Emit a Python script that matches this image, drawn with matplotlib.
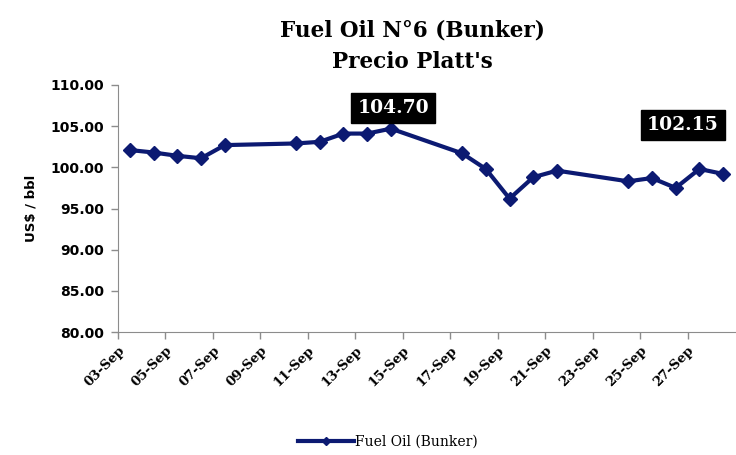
"""
Fuel Oil N°6 (Bunker) - Precio Platt's
"""
import matplotlib
matplotlib.use('Agg')
import matplotlib.pyplot as plt
import matplotlib.dates as mdates
import matplotlib.transforms as mtransforms
import pandas as pd

dates = ['2012-09-03', '2012-09-04', '2012-09-05', '2012-09-06', '2012-09-07',
         '2012-09-10', '2012-09-11', '2012-09-12', '2012-09-13', '2012-09-14',
         '2012-09-17', '2012-09-18', '2012-09-19', '2012-09-20', '2012-09-21',
         '2012-09-24', '2012-09-25', '2012-09-26', '2012-09-27', '2012-09-28']
prices = [102.1, 101.8, 101.4, 101.1, 102.7,
          102.9, 103.1, 104.1, 104.1, 104.7,
          101.7, 99.8, 96.2, 98.8, 99.6,
          98.3, 98.7, 97.5, 99.8, 99.2]
label_max = '104.70'
label_last = '102.15'
yticks = [80, 85, 90, 95, 100, 105, 110]

navy = '#0c1a72'
grey = '#8c8c8c'

x = mdates.date2num(pd.to_datetime(dates)) + 0.5
start = mdates.date2num(pd.Timestamp('2012-09-03'))
end = mdates.date2num(pd.Timestamp('2012-09-29'))
tick_dates = pd.date_range('2012-09-03', '2012-09-27', freq='2D')

fig = plt.figure(figsize=(7.36, 4.55), dpi=100)
ax = fig.add_axes([118 / 736, 1 - 332 / 455, 617 / 736, 247 / 455])

ax.plot(x, prices, color=navy, lw=3, marker='D', ms=7, mfc=navy, mec=navy,
        label='Fuel Oil (Bunker)')

ax.set_xlim(start, end)
ax.set_ylim(80, 110)
ax.set_yticks(yticks)
ax.set_yticklabels([f'{v:.2f}' for v in yticks], family='DejaVu Sans',
                   fontweight='bold', fontsize=10)
ax.set_xticks(mdates.date2num(tick_dates))
ax.set_xticklabels([d.strftime('%d-Sep') for d in tick_dates], rotation=45,
                   ha='right', rotation_mode='anchor', family='DejaVu Serif',
                   fontweight='bold', fontsize=9.5)
shift = mtransforms.ScaledTranslation(8 / 100, -4 / 100, fig.dpi_scale_trans)
for lbl in ax.get_xticklabels():
    lbl.set_transform(lbl.get_transform() + shift)

for side in ('top', 'right'):
    ax.spines[side].set_visible(False)
for side in ('left', 'bottom'):
    ax.spines[side].set_color(grey)
ax.tick_params(axis='both', colors=grey, length=5, width=1, labelcolor='black')
ax.tick_params(axis='y', pad=5)

ax.set_ylabel('US$ / bbl', family='DejaVu Sans', fontweight='bold',
              fontsize=9.5, labelpad=9)

box = dict(boxstyle='square,pad=0.32', fc='black', ec='black')
ax.text(mdates.date2num(pd.Timestamp('2012-09-14')) + 0.6, 107.2, label_max,
        color='white', fontsize=13.5, fontweight='bold', family='DejaVu Serif',
        ha='center', va='center', bbox=box)
ax.text(mdates.date2num(pd.Timestamp('2012-09-26')) + 0.8, 105.2, label_last,
        color='white', fontsize=13.5, fontweight='bold', family='DejaVu Serif',
        ha='center', va='center', bbox=box)

fig.text(412 / 736, 1 - 30 / 455, 'Fuel Oil N°6 (Bunker)', ha='center',
         va='center', family='DejaVu Serif', fontweight='bold', fontsize=15.5)
fig.text(412 / 736, 1 - 62 / 455, "Precio Platt's", ha='center',
         va='center', family='DejaVu Serif', fontweight='bold', fontsize=15.5)

fig.legend(loc='center', bbox_to_anchor=(0.527, 1 - 442 / 455), frameon=False,
           prop={'family': 'DejaVu Serif', 'size': 10}, handlelength=4,
           handletextpad=0.1, markerscale=0.6)

fig.savefig('out.png', dpi=100)
